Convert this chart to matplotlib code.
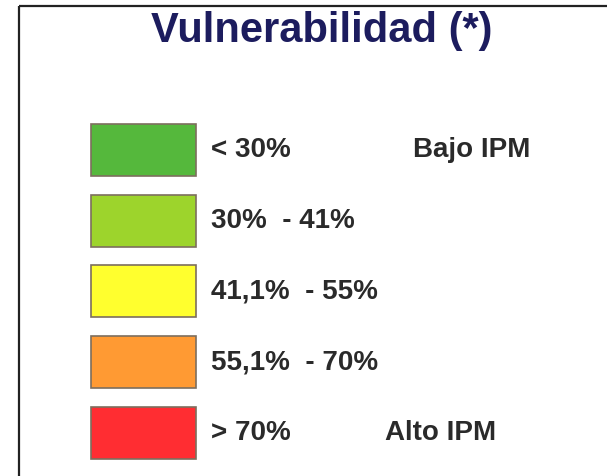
import matplotlib
matplotlib.use("Agg")
import matplotlib.pyplot as plt
import numpy as np

title = "Vulnerabilidad (*)"
ranges = ["< 30%", "30%  - 41%", "41,1%  - 55%", "55,1%  - 70%", "> 70%"]
colors = ["#55B83C", "#9DD42C", "#FFFF2E", "#FF9A33", "#FF2D32"]
side_labels = {0: "Bajo IPM", 4: "Alto IPM"}

plt.rcParams['font.family'] = ['Liberation Sans', 'DejaVu Sans']

W, H = 607, 476
fig = plt.figure(figsize=(W / 100, H / 100), dpi=100)
ax = fig.add_axes([0, 0, 1, 1])
ax.set_xlim(0, W)
ax.set_ylim(H, 0)
ax.axis('off')

# frame: top and left lines
ax.plot([19, W], [6, 6], color="#222222", lw=1.6, solid_capstyle='butt')
ax.plot([19, 19], [6, H], color="#222222", lw=1.6, solid_capstyle='butt')

ax.text(322, 31, title, ha='center', va='center', fontsize=30,
        fontweight='bold', color="#1c1c5e")

idx = np.arange(len(ranges))
centers = 150 + idx * 70.7
ax.barh(centers, 105, left=91, height=52, color=colors,
        edgecolor="#7d6e5e", linewidth=1.2)

for i, (c, lab) in enumerate(zip(centers, ranges)):
    ax.text(211, c, lab, ha='left', va='center', fontsize=20,
            fontweight='bold', color="#2a2a2a")
    if i in side_labels:
        x = 413 if i == 0 else 385
        ax.text(x, c, side_labels[i], ha='left', va='center', fontsize=20,
                fontweight='bold', color="#2a2a2a")

fig.savefig("out.png", dpi=100, facecolor="white")
